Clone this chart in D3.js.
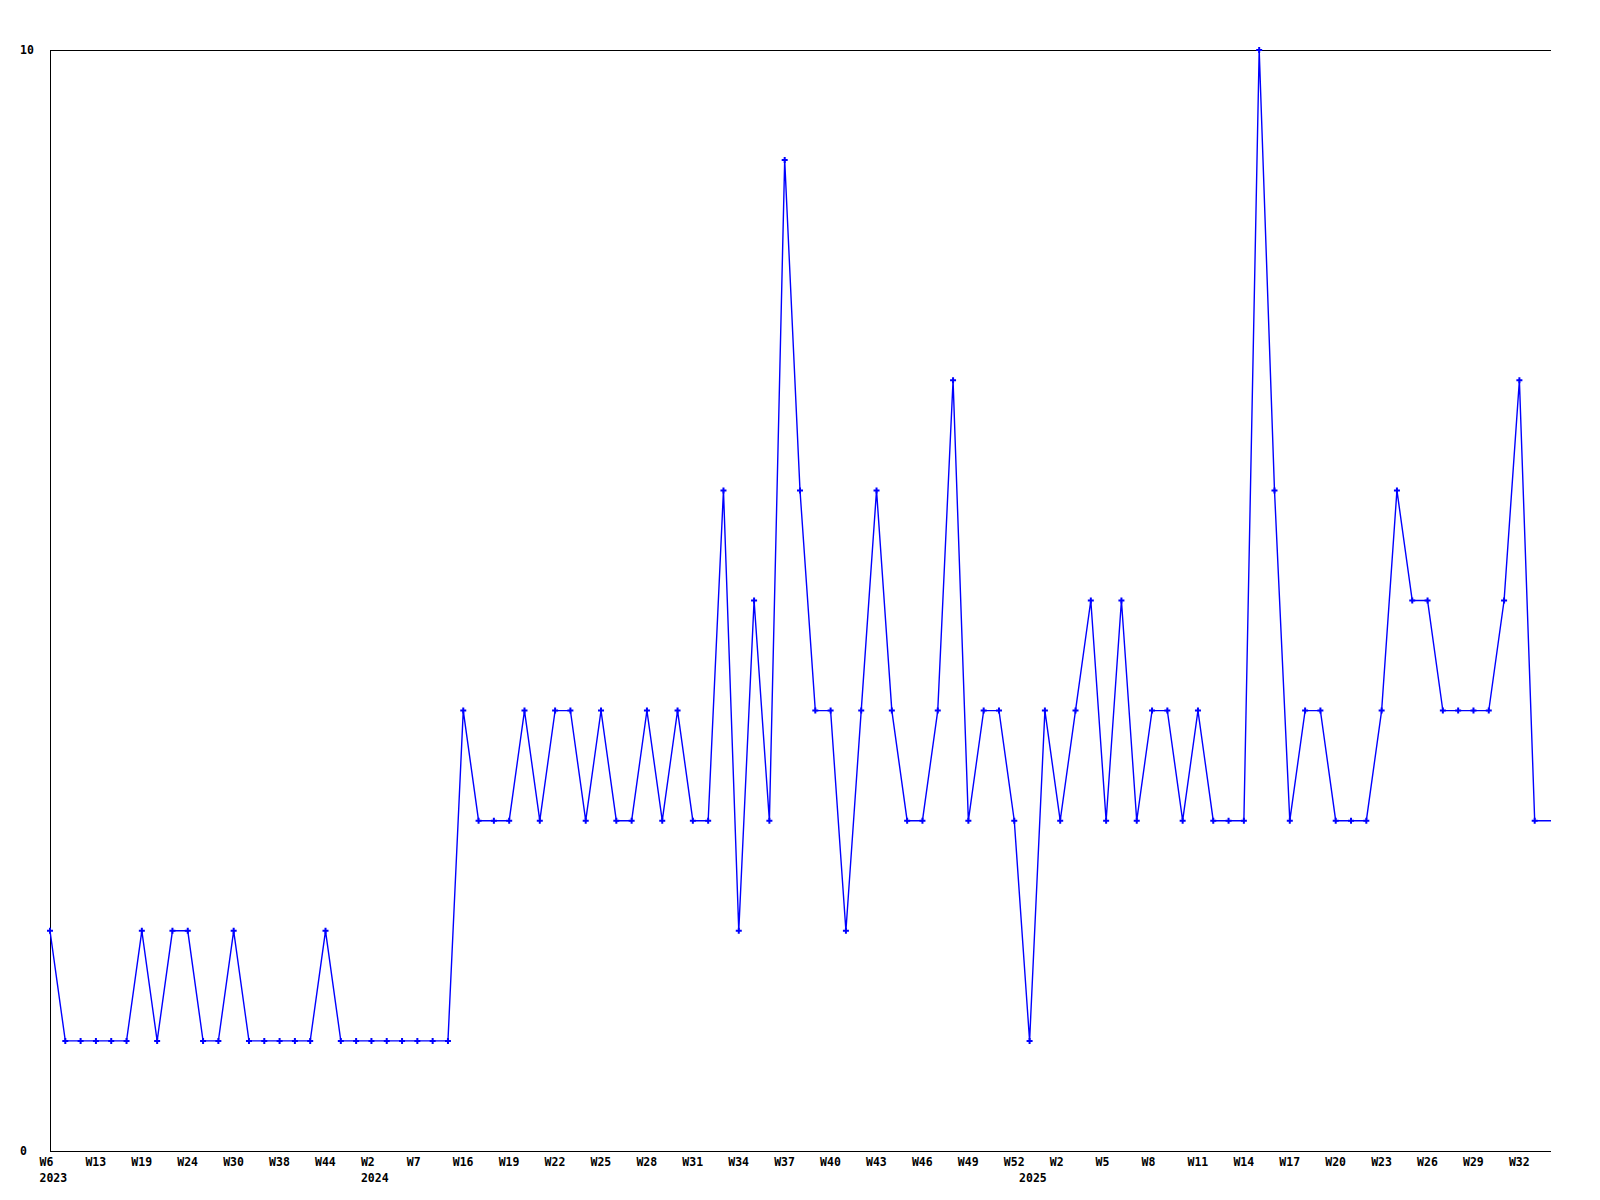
<!DOCTYPE html>
<html>
<head>
<meta charset="utf-8">
<script src="https://cdn.jsdelivr.net/npm/d3@7"></script>
<style>
  html, body { margin: 0; padding: 0; background: #ffffff; }
  svg { display: block; }
  text { font-family: "DejaVu Sans Mono", "Liberation Mono", monospace; font-weight: bold; font-size: 11.5px; fill: #000; }
</style>
</head>
<body>
<script>
// ---- data ----
const values = [
  2,1,1,1,1,1,2,1,2,2,
  1,1,2,1,1,1,1,1,2,1,
  1,1,1,1,1,1,1,4,3,3,
  3,4,3,4,4,3,4,3,3,4,
  3,4,3,3,6,2,5,3,9,6,
  4,4,2,4,6,4,3,3,4,7,
  3,4,4,3,1,4,3,4,5,3,
  5,3,4,4,3,4,3,3,3,10,
  6,3,4,4,3,3,3,4,6,5,
  5,4,4,4,4,5,7,3
];
const tickLabels = ["W6","W13","W19","W24","W30","W38","W44","W2","W7","W16","W19",
  "W22","W25","W28","W31","W34","W37","W40","W43","W46","W49","W52","W2",
  "W5","W8","W11","W14","W17","W20","W23","W26","W29","W32"];
const tickEvery = 3;
const yearStartIndex = [0, 21, 64];   // first point of each year
const yearNames = ["2023", "2024", "2025"];
const yTicks = [0, 10];

// ---- layout ----
const W = 1600, H = 1200;
const mLeft = 50, mRight = 1551, mTop = 50, mBottom = 1151;

const svg = d3.select("body").append("svg").attr("width", W).attr("height", H);

const x = d3.scaleLinear().domain([0, values.length]).range([mLeft, mRight - 1]);
const y = d3.scaleLinear().domain([0, 10]).range([mBottom, mTop]);

// frame lines
const frame = svg.append("g").attr("stroke", "#000").attr("stroke-width", 1).attr("shape-rendering", "crispEdges");
frame.append("line").attr("x1", mLeft + 0.5).attr("x2", mLeft + 0.5).attr("y1", y(10)).attr("y2", y(0));
frame.append("line").attr("x1", mLeft).attr("x2", mRight).attr("y1", y(10) + 0.5).attr("y2", y(10) + 0.5);
frame.append("line").attr("x1", mLeft).attr("x2", mRight).attr("y1", y(0) + 0.5).attr("y2", y(0) + 0.5);

// y labels
svg.append("g").selectAll("text").data(yTicks).join("text")
  .attr("x", 20).attr("y", d => y(d) + 4).text(d => d);

// x labels
svg.append("g").selectAll("text").data(tickLabels).join("text")
  .attr("x", (d, i) => x(i * tickEvery) - 10.5).attr("y", mBottom + 15).text(d => d);
svg.append("g").selectAll("text").data(yearNames).join("text")
  .attr("x", (d, i) => x(yearStartIndex[i]) - 10.5).attr("y", mBottom + 31).text(d => d);

// line (last value carried to the right edge)
const linePts = values.map((v, i) => [x(i), y(v)]);
linePts.push([mRight, y(values[values.length - 1])]);
svg.append("path")
  .attr("d", d3.line()(linePts))
  .attr("fill", "none").attr("stroke", "#0000ff").attr("stroke-width", 1.4);

// markers
const sym = d3.symbol().type(d3.symbolCross).size(20);
svg.append("g").selectAll("path").data(values).join("path")
  .attr("transform", (d, i) => `translate(${x(i)},${y(d)})`)
  .attr("d", sym).attr("fill", "#0000ff");
</script>
</body>
</html>
